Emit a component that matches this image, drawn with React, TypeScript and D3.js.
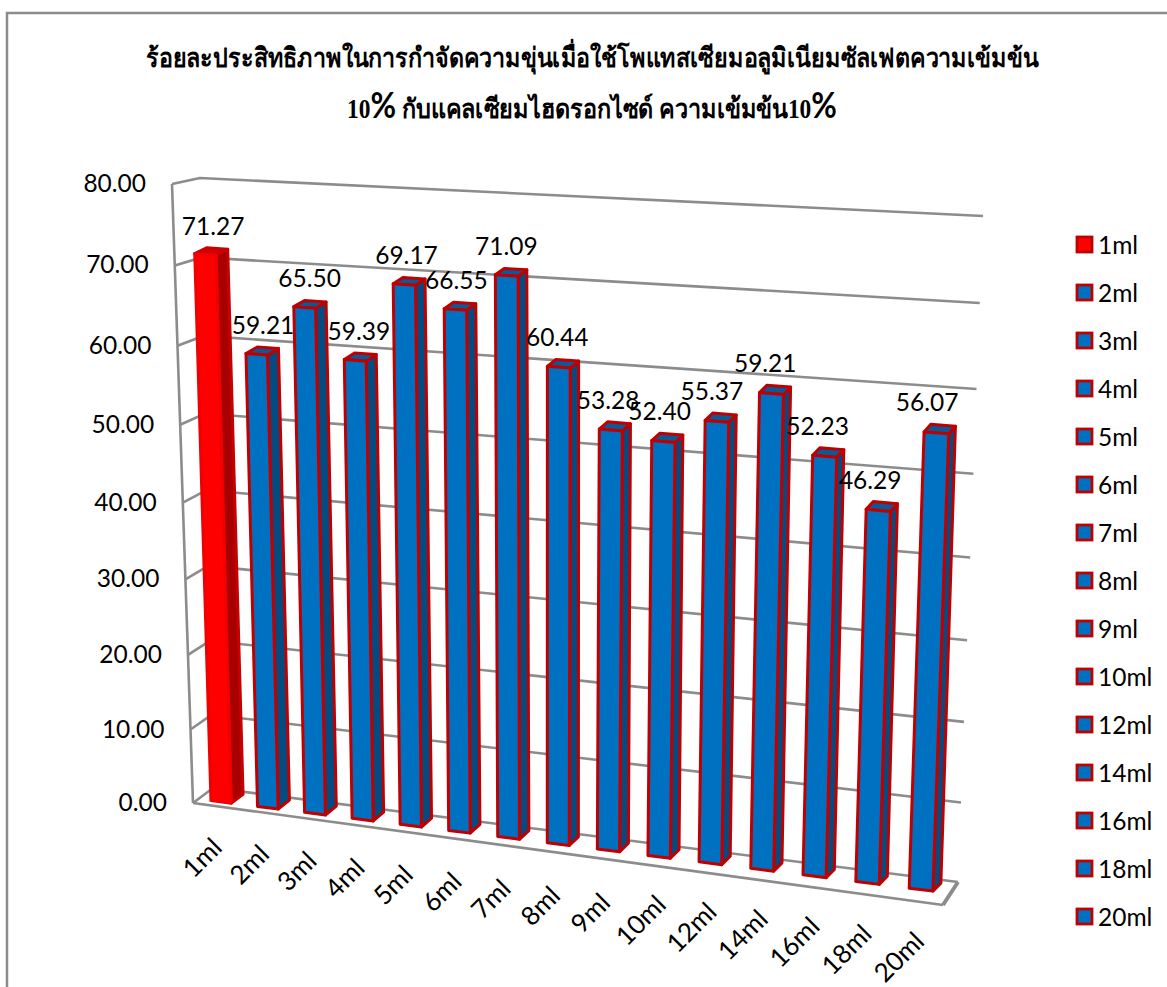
import React from "react";
import * as d3 from "d3";

// Removal efficiency per dose; one series per bar.
const categories = ["1ml","2ml","3ml","4ml","5ml","6ml","7ml","8ml","9ml","10ml","12ml","14ml","16ml","18ml","20ml"];
const values = [71.27,59.21,65.50,59.39,69.17,66.55,71.09,60.44,53.28,52.40,55.37,59.21,52.23,46.29,56.07];
const yTicks = [0,10,20,30,40,50,60,70,80];
const titleLine1 = "ร้อยละประสิทธิภาพในการกำจัดความขุ่นเมื่อใช้โพแทสเซียมอลูมิเนียมซัลเฟตความเข้มข้น";

type Pt = [number, number];

// Corners of the 3D plot box, in order: low-left, low-right, high-right, high-left.
const backQuad: Pt[] = [[213,788],[958,882],[983,216],[200,178]];
const frontQuad: Pt[] = [[193,803],[943,905],[969,250],[172,184]];
// Planes holding the rear and front faces of the columns.
const barBackQuad: Pt[] = [[210,790],[956,885],[978,221],[191,177]];
const barFrontQuad: Pt[] = [[198,799],[948,893],[972,228],[179,182]];

const lerp = (a: Pt, b: Pt, t: number): Pt => [a[0]+(b[0]-a[0])*t, a[1]+(b[1]-a[1])*t];

// Perspective map from the unit square onto a quadrilateral.
function homography(q: Pt[]) {
  const [[x0,y0],[x1,y1],[x2,y2],[x3,y3]] = q;
  const dx1=x1-x2, dx2=x3-x2, sx=x0-x1+x2-x3;
  const dy1=y1-y2, dy2=y3-y2, sy=y0-y1+y2-y3;
  const den=dx1*dy2-dx2*dy1;
  const g=(sx*dy2-dx2*sy)/den, h=(dx1*sy-sx*dy1)/den;
  const a=x1-x0+g*x1, b=x3-x0+h*x3, c=x0;
  const d=y1-y0+g*y1, e=y3-y0+h*y3, f=y0;
  return (u:number,v:number):Pt => {
    const w=g*u+h*v+1;
    return [(a*u+b*v+c)/w,(d*u+e*v+f)/w];
  };
}

const project = (u:number,v:number,depth:number):Pt =>
  homography(backQuad.map((p,i)=>lerp(p,frontQuad[i],depth)))(u,v);
const onBarBack = homography(barBackQuad);
const onBarFront = homography(barFrontQuad);

const xBand = d3.scaleBand<string>().domain(categories).range([0,1]).paddingInner(0.56).paddingOuter(0.28);
const yValue = d3.scaleLinear().domain([0,80]).range([0,1]);
const labelShift = d3.scaleLinear().domain([0,14]).range([-4,-16]);
const catShiftX = d3.scaleLinear().domain([0,14]).range([-15,-18]);
const catShiftY = d3.scaleLinear().domain([0,14]).range([51,55]);
const polyPath = (pts: Pt[]) => d3.line()(pts)+"Z";

const GRID = "#8c8c8c";
const OUTLINE = "#c00000";
const LABEL_FONT = "Lato, 'Open Sans', sans-serif";
const TITLE_FONT = "'Liberation Serif', 'Noto Sans', serif";

function Bar({ i }: { i:number }) {
  const u0 = xBand(categories[i])!;
  const u1 = u0 + xBand.bandwidth();
  const v = yValue(values[i]);
  const isFirst = i===0;
  const front = [onBarFront(u0,0),onBarFront(u1,0),onBarFront(u1,v),onBarFront(u0,v)];
  const side = [onBarFront(u1,0),onBarBack(u1,0),onBarBack(u1,v),onBarFront(u1,v)];
  const top = [onBarFront(u0,v),onBarFront(u1,v),onBarBack(u1,v),onBarBack(u0,v)];
  return (
    <g strokeLinejoin="round">
      <g stroke={isFirst?"#c80000":OUTLINE} strokeWidth={3}>
        <path d={polyPath(side)} fill={isFirst?"#a80000":"#034b80"}/>
        <path d={polyPath(top)} fill={isFirst?"#d40000":"#0b5a98"}/>
      </g>
      <path d={polyPath(front)} fill={isFirst?"#ff0000":"#0070c0"} stroke={isFirst?"#f00000":OUTLINE} strokeWidth={3}/>
    </g>
  );
}

export default function App() {
  const width = 1167, height = 987;
  return (
    <svg width={width} height={height} style={{position:"absolute",left:0,top:0,background:"#fff"}}>
      <path d="M1167 13H7V987" fill="none" stroke={GRID} strokeWidth={2.5}/>

      {/* Tall, condensed title lines */}
      <g fontFamily={TITLE_FONT} fontWeight="bold" fill="#000" textAnchor="middle">
        <text transform="translate(592,67) scale(0.863,1)" fontSize={27}>{titleLine1}</text>
        <text transform="translate(592,118) scale(0.868,1)" fontSize={27}>
          10<tspan fontFamily={LABEL_FONT} fontSize={36}>%</tspan> กับแคลเซียมไฮดรอกไซด์ ความเข้มข้น10<tspan fontFamily={LABEL_FONT} fontSize={36}>%</tspan>
        </text>
      </g>

      {/* Gridlines run along the left wall and the back wall */}
      <g fill="none" stroke={GRID} strokeWidth={2.6}>
        {yTicks.map(t=>{
          const v=yValue(t);
          return <path key={t} d={d3.line()([project(0,v,1),project(0,v,0),project(1,v,0)])!}/>;
        })}
        <path d={d3.line()([project(0,0,1),project(0,1,1)])!}/>
        <path d={d3.line()([project(0,0,1),project(1,0,1)])!}/>
        <path d={d3.line()([project(1,0,1),project(1,0,0)])!} strokeWidth={4}/>
      </g>

      {categories.map((_,i)=><Bar key={i} i={i}/>)}

      <g fontFamily={LABEL_FONT} fontSize={24.5} fill="#000">
        {yTicks.map(t=>{
          const p=project(0,yValue(t),1);
          return <text key={t} x={p[0]-26} y={p[1]+8} textAnchor="end">{t.toFixed(2)}</text>;
        })}
        {categories.map((c,i)=>{
          const u=xBand(c)!+xBand.bandwidth()/2;
          const p=project(u,0,1);
          return <text key={c} transform={`translate(${p[0]+catShiftX(i)},${p[1]+catShiftY(i)}) rotate(-45)`} textAnchor="middle" dominantBaseline="central" fontSize={26}>{c}</text>;
        })}
        {values.map((val,i)=>{
          const u=xBand(categories[i])!+xBand.bandwidth()/2;
          const p=onBarBack(u,yValue(val));
          return <text key={i} x={p[0]+labelShift(i)} y={p[1]-14} textAnchor="middle">{val.toFixed(2)}</text>;
        })}
        {categories.map((c,i)=>{
          const y=245+i*48;
          return (
            <g key={c}>
              <rect x={1077} y={y-8} width={15} height={15} fill={i===0?"#ff0000":"#0070c0"} stroke={OUTLINE} strokeWidth={2.8}/>
              <text x={1098} y={y+9}>{c}</text>
            </g>
          );
        })}
      </g>
    </svg>
  );
}
